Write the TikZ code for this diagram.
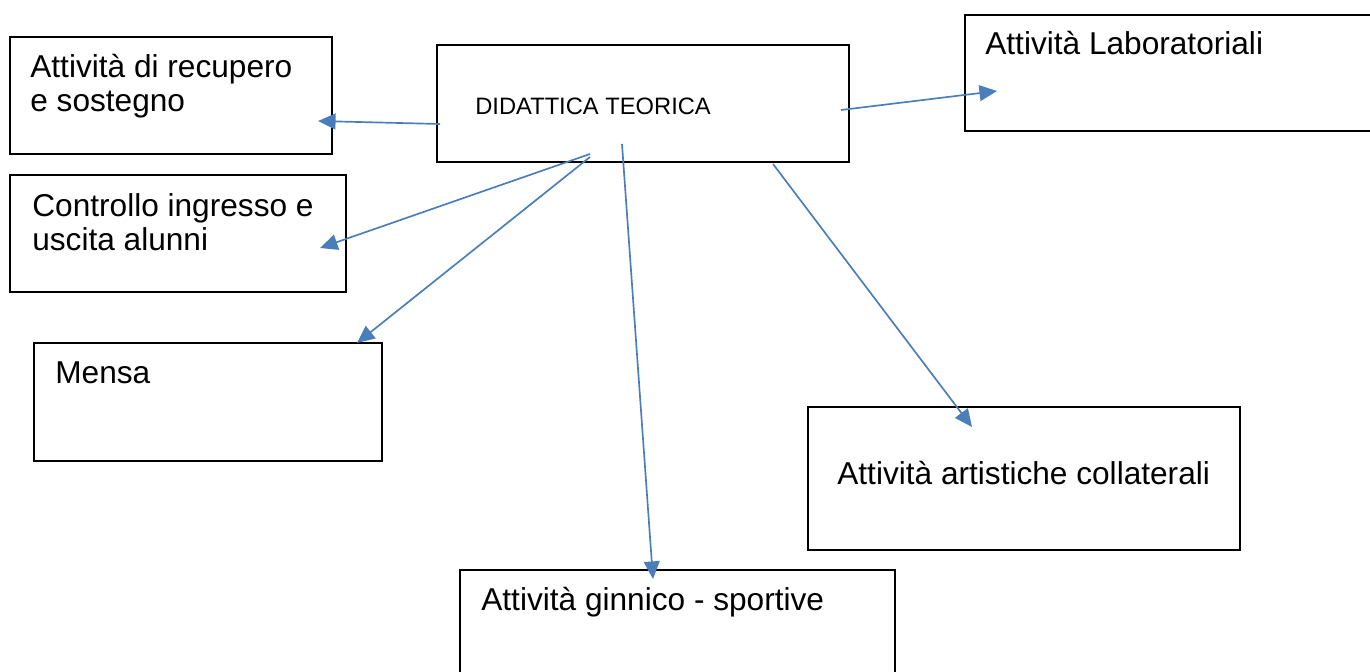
\documentclass[tikz,border=0pt]{standalone}
\usepackage{fontspec}
\setmainfont{Liberation Sans}
\usetikzlibrary{arrows.meta,fit}

\definecolor{linkblue}{RGB}{74,126,187}

\tikzset{
  box/.style={draw=black, line width=1.1pt, inner sep=0pt},
  lbl/.style={inner sep=0pt, align=left, font=\fontsize{18}{19.8}\selectfont},
  link/.style={linkblue, line width=0.95pt, -{Triangle[length=10pt,width=9pt]}}
}

\begin{document}
\begin{tikzpicture}[x=0.02cm,y=-0.02cm]
    \useasboundingbox (0,0) rectangle (1370,672);
    \clip (0,0) rectangle (1370,672);
    \fill[white] (0,0) rectangle (1370,672);

    \node[box, fit={(437,45) (849,162)}] (didattica) {};
    \node[box, fit={(10,37) (332,154)}] (recupero) {};
    \node[box, fit={(965,15) (1390,131)}] (laboratori) {};
    \node[box, fit={(10,175) (346,292)}] (controllo) {};
    \node[box, fit={(34,343) (382,461)}] (mensa) {};
    \node[box, fit={(808,407) (1240,550)}] (artistiche) {};
    \node[box, fit={(460,570) (895,700)}] (ginnico) {};

    \node[lbl, anchor=base west, font=\fontsize{13.5}{15}\selectfont] (didatticaT) at (475,115) {DIDATTICA TEORICA};
    \node[lbl, anchor=base west] (recuperoT) at (30,112) {Attività di recupero\\e sostegno};
    \node[lbl, anchor=base west] (laboratoriT) at (985,55) {Attività Laboratoriali};
    \node[lbl, anchor=base west] (controlloT) at (32,251) {Controllo ingresso e\\uscita alunni};
    \node[lbl, anchor=base west] (mensaT) at (55,383) {Mensa};
    \node[lbl, anchor=base west] (artisticheT) at (837,484) {Attività artistiche collaterali};
    \node[lbl, anchor=base west] (ginnicoT) at (481,610) {Attività ginnico - sportive};

    \coordinate (fromRec) at (440,124);
    \coordinate (toRec) at (318,121);
    \coordinate (fromLab) at (841,110);
    \coordinate (toLab) at (997,91);
    \coordinate (fromCtl) at (590,154);
    \coordinate (toCtl) at (320,248);
    \coordinate (fromMensa) at (590,157);
    \coordinate (toMensa) at (357,343);
    \coordinate (fromGin) at (622,144);
    \coordinate (toGin) at (653,579);
    \coordinate (fromArt) at (773,164);
    \coordinate (toArt) at (972,427);

    \draw[link] (fromRec) -- (toRec);
    \draw[link] (fromLab) -- (toLab);
    \draw[link] (fromCtl) -- (toCtl);
    \draw[link] (fromMensa) -- (toMensa);
    \draw[link] (fromGin) -- (toGin);
    \draw[link] (fromArt) -- (toArt);
\end{tikzpicture}
\end{document}
